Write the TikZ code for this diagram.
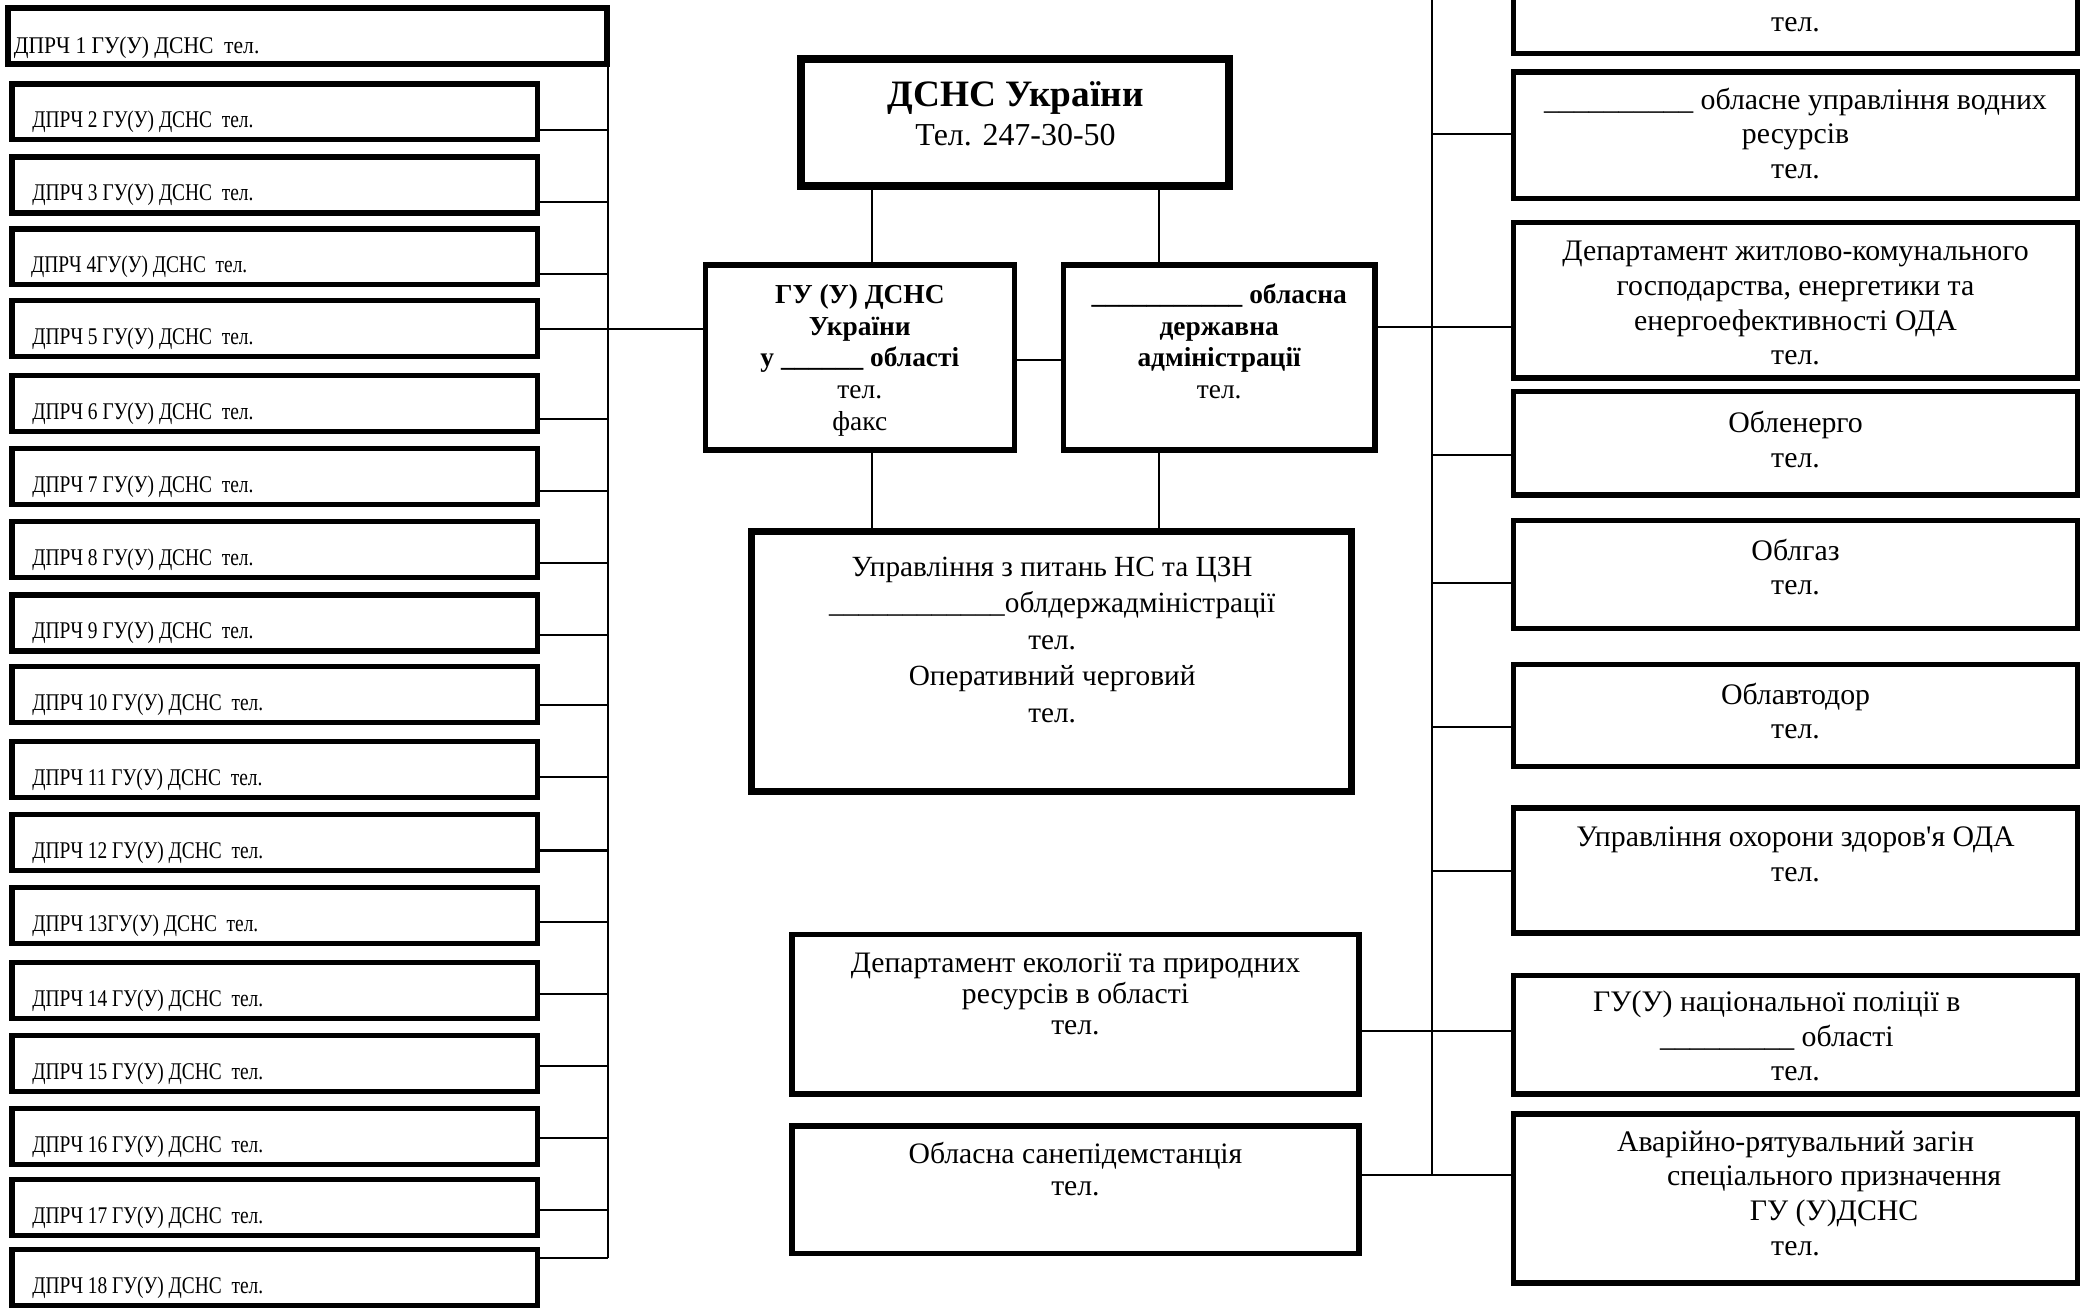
\documentclass[tikz,border=0pt]{standalone}
\usepackage{fontspec}
\setmainfont{Liberation Serif}
\newfontfamily\condfont[FakeStretch=0.81]{Liberation Serif}
\newfontfamily\condfontw[FakeStretch=0.9]{Liberation Serif}
\usetikzlibrary{fit}
\newlength\un
\setlength\un{0.5pt}
\newcommand\ctext[1]{\begin{tabular}[t]{@{}c@{}}#1\end{tabular}}
\begin{document}
\begin{tikzpicture}[x=0.5pt,y=-0.5pt,
  bx/.style={draw, line width=2pt, inner sep=0pt},
  bxthick/.style={draw, line width=3pt, inner sep=0pt},
  bxmid/.style={draw, line width=2.5pt, inner sep=0pt},
  conn/.style={line width=0.8pt},
  ltxt/.style={inner sep=0pt, anchor=base west, font=\condfont\fontsize{9}{10}\selectfont},
  ctr/.style={inner sep=0pt, anchor=base},
  guf/.style={font=\fontsize{10.3}{12}\selectfont},
  uprf/.style={font=\fontsize{11}{13.7}\selectfont},
  ecof/.style={font=\fontsize{11.15}{11.7}\selectfont},
  rf/.style={font=\fontsize{11.2}{13}\selectfont},
]
\useasboundingbox (0,0) rectangle (1568,984);

% ---------------- left column ----------------
\node[bx, fit={(6,6) (456,48)}] (d1) {};
\node[ltxt, font=\condfontw\fontsize{9}{10}\selectfont] (dt1) at (10,40) {ДПРЧ 1 ГУ(У) ДСНС~~тел.};
\foreach \i/\t/\c in {2/61/98,3/116/152,4/170/206,5/224/247,6/280/315,7/335/369,8/390/423,9/445/477,10/499/530,11/555/584,12/610/639,13/665/693,14/721/747,15/776/801,16/831/855,17/884/909,18/937/945}{
  \node[bx, fit={(9,\t+2) (404,\t+44)}] (d\i) {};
  \coordinate (lb\i) at (457,\c);
}
\foreach \i/\t in {2/61,3/116,5/224,6/280,7/335,8/390,9/445,10/499,11/555,12/610,14/721,15/776,16/831,17/884,18/937}{
  \node[ltxt] (dt\i) at (24,\t+35) {ДПРЧ \i\ ГУ(У) ДСНС~~тел.};
}
\node[ltxt] (dt4) at (23,170+35) {ДПРЧ 4ГУ(У) ДСНС~~тел.};
\node[ltxt] (dt13) at (24,665+35) {ДПРЧ 13ГУ(У) ДСНС~~тел.};

\coordinate (ltop) at (457,48);
\coordinate (lbot) at (457,945);
\draw[conn] (ltop) -- (lbot);
\foreach \i in {2,3,4,6,7,8,9,10,11,12,13,14,15,16,17,18}{
  \draw[conn] (d\i.east |- lb\i) -- (lb\i);
}

% ---------------- centre ----------------
\node[bxthick, fit={(602,44) (923,140)}] (dsns) {};
\node[ctr, font=\bfseries\fontsize{14}{14}\selectfont] (dsnst) at (763,80) {ДСНС України};
\node[ctr, font=\fontsize{12}{12}\selectfont] (dsnstel) at (763,109.5) {Тел. 247-30-50};

\node[bx, fit={(530,199) (762,338)}] (gu) {};
\node[ctr, guf] (gut) at (646,227.7) {\ctext{\textbf{ГУ (У) ДСНС}\\ \textbf{України}\\ \textbf{у \_\_\_\_\_\_ області}\\ тел.\\ факс}};

\node[bx, fit={(799,199) (1033,338)}] (oda) {};
\node[ctr, guf] (odat) at (916,227.7) {\ctext{\textbf{\_\_\_\_\_\_\_\_\_\_\_ обласна}\\ \textbf{державна}\\ \textbf{адміністрації}\\ тел.}};

\node[bxmid, fit={(564.5,399.5) (1015.5,594.5)}] (upr) {};
\node[ctr, uprf] (uprt) at (790.5,433) {\ctext{Управління з питань НС та ЦЗН\\ \_\_\_\_\_\_\_\_\_\_\_\_облдержадміністрації\\ тел.\\ Оперативний черговий\\ тел.}};

\node[bx, fit={(595,702) (1021,822)}] (eco) {};
\node[ctr, ecof] (ecot) at (808,730.7) {\ctext{Департамент екології та природних\\ ресурсів в області\\ тел.}};

\node[bx, fit={(595,846) (1021,942)}] (san) {};
\node[ctr, ecof] (sant) at (808,874.5) {\ctext{Обласна санепідемстанція\\ тел.}};

% centre connectors
\coordinate (dl) at (655,0);
\coordinate (dr) at (871,0);
\draw[conn] (dsns.south -| dl) -- (gu.north -| dl);
\draw[conn] (dsns.south -| dr) -- (oda.north -| dr);
\draw[conn] (gu.south -| dl) -- (upr.north -| dl);
\draw[conn] (oda.south -| dr) -- (upr.north -| dr);
\coordinate (gh) at (0,270.5);
\draw[conn] (gu.east |- gh) -- (oda.west |- gh);
\draw[conn] (d5.east |- lb5) -- (gu.west |- lb5);

% ---------------- right column ----------------
\node[bx, fit={(1137,-30) (1561,40)}] (r1) {};
\node[ctr, rf] (r1t) at (1349,24) {тел.};
\node[bx, fit={(1137,54) (1561,149)}] (r2) {};
\node[ctr, rf] (r2t) at (1349,82) {\ctext{\_\_\_\_\_\_\_\_\_\_ обласне управління водних\\ ресурсів\\ тел.}};
\node[bx, fit={(1137,167) (1561,284)}] (r3) {};
\node[ctr, rf] (r3t) at (1349,196) {\ctext{Департамент житлово-комунального\\ господарства, енергетики та\\ енергоефективності ОДА\\ тел.}};
\node[bx, fit={(1137,294) (1561,372)}] (r4) {};
\node[ctr, rf] (r4t) at (1349,325) {\ctext{Обленерго\\ тел.}};
\node[bx, fit={(1137,391) (1561,472)}] (r5) {};
\node[ctr, rf] (r5t) at (1349,421) {\ctext{Облгаз\\ тел.}};
\node[bx, fit={(1137,499) (1561,576)}] (r6) {};
\node[ctr, rf] (r6t) at (1349,529) {\ctext{Облавтодор\\ тел.}};
\node[bx, fit={(1137,607) (1561,701)}] (r7) {};
\node[ctr, rf] (r7t) at (1349,636) {\ctext{Управління охорони здоров\textquotesingle я ОДА\\ тел.}};
\node[bx, fit={(1137,733) (1561,822)}] (r8) {};
\node[ctr, rf] (r8t) at (1349,760) {\ctext{\makebox[0pt]{ГУ(У) національної поліції в\hspace*{28\un}}\\ \makebox[0pt]{\_\_\_\_\_\_\_\_\_ області\hspace*{28\un}}\\ тел.}};
\node[bx, fit={(1137,837) (1561,964)}] (r9) {};
\node[ctr, rf] (r9t) at (1349,865) {\ctext{Аварійно-рятувальний загін\\ \makebox[0pt]{\hspace*{58\un}спеціального призначення}\\ \makebox[0pt]{\hspace*{58\un}ГУ (У)ДСНС}\\ тел.}};

% right connectors
\coordinate (rtop) at (1076,-5);
\coordinate (rbot) at (1076,882.5);
\draw[conn] (rtop) -- (rbot);
\foreach \n/\y in {r2/100.5,r4/342,r5/438,r6/546.5,r7/654.5}{
  \coordinate (rb\n) at (1076,\y);
  \draw[conn] (rb\n) -- (\n.west |- rb\n);
}
\coordinate (yr3) at (0,245.6);
\draw[conn] (oda.east |- yr3) -- (r3.west |- yr3);
\coordinate (yr8) at (0,774.5);
\draw[conn] (eco.east |- yr8) -- (r8.west |- yr8);
\draw[conn] (san.east |- rbot) -- (r9.west |- rbot);
\end{tikzpicture}
\end{document}
